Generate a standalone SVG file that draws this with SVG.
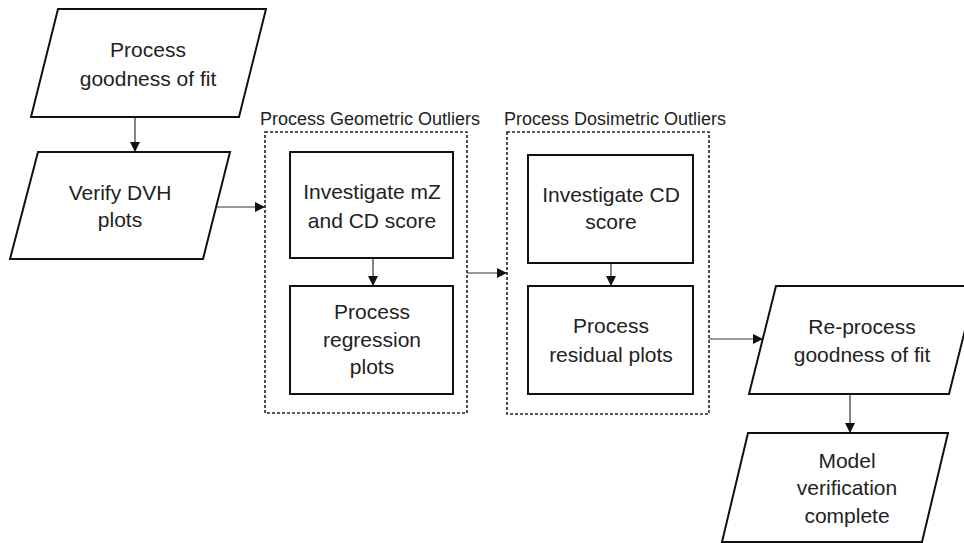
<svg xmlns="http://www.w3.org/2000/svg" width="964" height="543" viewBox="0 0 964 543">
<style>
.shape{fill:#fff;stroke:#111;stroke-width:2}
.group{fill:none;stroke:#222;stroke-width:1.6;stroke-dasharray:3 2}
.t{font-family:"Liberation Sans",Arial,sans-serif;font-size:21px;fill:#222;text-anchor:middle}
.lbl{font-family:"Liberation Sans",Arial,sans-serif;font-size:18px;fill:#222}
.conn{stroke:#333;stroke-width:1.2;fill:none;marker-end:url(#ah)}
</style>
<defs>
<marker id="ah" viewBox="0 0 10 10" refX="10" refY="5" markerWidth="10" markerHeight="10" markerUnits="userSpaceOnUse" orient="auto">
<path d="M0,0 L10,5 L0,10 z" fill="#111"/>
</marker>
</defs>
<rect width="964" height="543" fill="#fff"/>
<g id="connectors">
<line class="conn" x1="135" y1="117" x2="135" y2="152"/>
<line class="conn" x1="217" y1="207" x2="265" y2="207"/>
<line class="conn" x1="373" y1="258" x2="373" y2="286"/>
<line class="conn" x1="467" y1="273" x2="507" y2="273"/>
<line class="conn" x1="611" y1="263" x2="611" y2="286"/>
<line class="conn" x1="709" y1="339" x2="763" y2="339"/>
<line class="conn" x1="850" y1="394" x2="850" y2="433"/>
</g>
<g id="geo-group">
<rect class="group" x="265" y="132" width="202" height="281"/>
<text class="lbl" x="260" y="125">Process Geometric Outliers</text>
</g>
<g id="dos-group">
<rect class="group" x="507" y="132" width="202" height="282"/>
<text class="lbl" x="504" y="125">Process Dosimetric Outliers</text>
</g>
<g id="n1">
<polygon class="shape" points="58,9 266,9 239,117 31,117"/>
<text class="t" x="148" y="57">Process</text>
<text class="t" x="148" y="86">goodness of fit</text>
</g>
<g id="n2">
<polygon class="shape" points="38,152 230,152 203,259 10,259"/>
<text class="t" x="120" y="200">Verify DVH</text>
<text class="t" x="120" y="227">plots</text>
</g>
<g id="n3">
<rect class="shape" x="290" y="152" width="163" height="106"/>
<text class="t" x="372" y="199">Investigate mZ</text>
<text class="t" x="372" y="228">and CD score</text>
</g>
<g id="n4">
<rect class="shape" x="290" y="286" width="163" height="108"/>
<text class="t" x="372" y="319">Process</text>
<text class="t" x="372" y="347">regression</text>
<text class="t" x="372" y="374">plots</text>
</g>
<g id="n5">
<rect class="shape" x="528" y="155" width="165" height="108"/>
<text class="t" x="611" y="202">Investigate CD</text>
<text class="t" x="611" y="229">score</text>
</g>
<g id="n6">
<rect class="shape" x="528" y="286" width="165" height="108"/>
<text class="t" x="611" y="333">Process</text>
<text class="t" x="611" y="362">residual plots</text>
</g>
<g id="n7">
<polygon class="shape" points="776,286 976,286 949,394 749,394"/>
<text class="t" x="862" y="334">Re-process</text>
<text class="t" x="862" y="362">goodness of fit</text>
</g>
<g id="n8">
<polygon class="shape" points="748,433 948,433 922,542 722,542"/>
<text class="t" x="847" y="468">Model</text>
<text class="t" x="847" y="495">verification</text>
<text class="t" x="847" y="523">complete</text>
</g>
</svg>
